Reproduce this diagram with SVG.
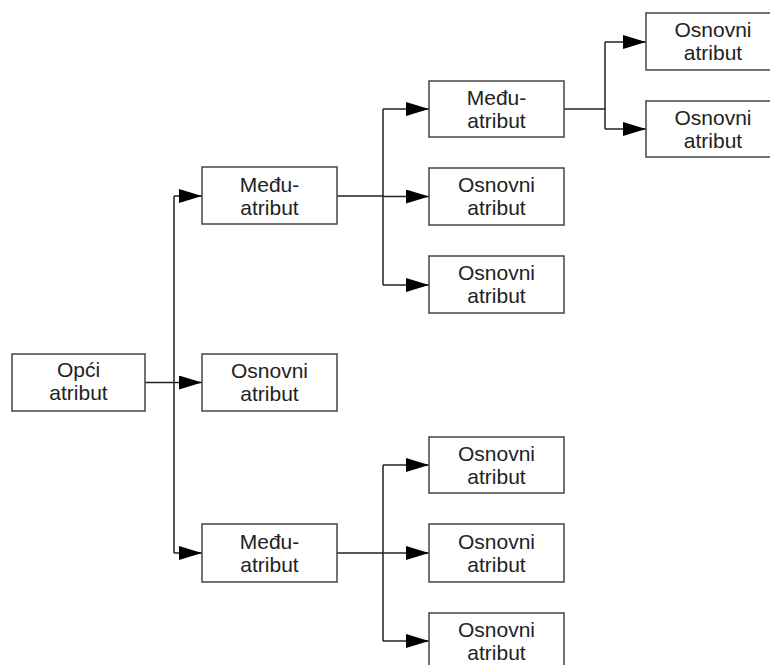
<svg xmlns="http://www.w3.org/2000/svg" width="770" height="665" viewBox="0 0 770 665">
<defs>
<style>
.box{fill:#fff;stroke:#444;stroke-width:1.5}
.t{font-family:"Liberation Sans",Arial,sans-serif;font-size:21px;fill:#222;text-anchor:middle}
.c{fill:none;stroke:#222;stroke-width:1.5}
</style>
<marker id="ah" markerUnits="userSpaceOnUse" markerWidth="24" markerHeight="16" refX="23" refY="7" orient="auto">
<path d="M0,0 L23,7 L0,14 Z" fill="#000"/>
</marker>
</defs>
<rect width="770" height="665" fill="#fff"/>
<g id="connectors">
<path class="c" d="M145,382.5 H174 M174,196 V553"/>
<path class="c" marker-end="url(#ah)" d="M174,196 H202"/>
<path class="c" marker-end="url(#ah)" d="M174,382.5 H202"/>
<path class="c" marker-end="url(#ah)" d="M174,553 H202"/>
<path class="c" d="M337,196 H383 M383,109 V285"/>
<path class="c" marker-end="url(#ah)" d="M383,109 H429"/>
<path class="c" marker-end="url(#ah)" d="M383,196.5 H429"/>
<path class="c" marker-end="url(#ah)" d="M383,285 H429"/>
<path class="c" d="M564,109 H605 M605,42 V129"/>
<path class="c" marker-end="url(#ah)" d="M605,42 H646"/>
<path class="c" marker-end="url(#ah)" d="M605,129 H646"/>
<path class="c" d="M337,553 H383 M383,465 V641"/>
<path class="c" marker-end="url(#ah)" d="M383,465 H429"/>
<path class="c" marker-end="url(#ah)" d="M383,553 H429"/>
<path class="c" marker-end="url(#ah)" d="M383,641 H429"/>
</g>
<g id="opci"><rect class="box" x="12" y="354" width="133" height="57"/><text class="t" x="78.5" y="377">Opći</text><text class="t" x="78.5" y="400">atribut</text></g>
<g id="medju1"><rect class="box" x="202" y="167" width="135" height="57"/><text class="t" x="269.5" y="192">Među-</text><text class="t" x="269.5" y="215">atribut</text></g>
<g id="osnovni1"><rect class="box" x="202" y="354" width="135" height="57"/><text class="t" x="269.5" y="378">Osnovni</text><text class="t" x="269.5" y="401">atribut</text></g>
<g id="medju2"><rect class="box" x="202" y="524" width="135" height="58"/><text class="t" x="269.5" y="549">Među-</text><text class="t" x="269.5" y="572">atribut</text></g>
<g id="medju3"><rect class="box" x="429" y="81" width="135" height="56"/><text class="t" x="496.5" y="105">Među-</text><text class="t" x="496.5" y="128">atribut</text></g>
<g id="osnovni2"><rect class="box" x="429" y="168" width="135" height="57"/><text class="t" x="496.5" y="192">Osnovni</text><text class="t" x="496.5" y="215">atribut</text></g>
<g id="osnovni3"><rect class="box" x="429" y="256" width="135" height="57"/><text class="t" x="496.5" y="280">Osnovni</text><text class="t" x="496.5" y="303">atribut</text></g>
<g id="osnovni4"><rect class="box" x="429" y="437" width="135" height="56"/><text class="t" x="496.5" y="461">Osnovni</text><text class="t" x="496.5" y="484">atribut</text></g>
<g id="osnovni5"><rect class="box" x="429" y="524" width="135" height="58"/><text class="t" x="496.5" y="549">Osnovni</text><text class="t" x="496.5" y="572">atribut</text></g>
<g id="osnovni6"><rect class="box" x="429" y="613" width="135" height="57"/><text class="t" x="496.5" y="637">Osnovni</text><text class="t" x="496.5" y="660">atribut</text></g>
<g id="osnovni7"><rect class="box" x="646" y="13" width="135" height="57"/><text class="t" x="713" y="37">Osnovni</text><text class="t" x="713" y="60">atribut</text></g>
<g id="osnovni8"><rect class="box" x="646" y="101" width="135" height="56"/><text class="t" x="713" y="125">Osnovni</text><text class="t" x="713" y="148">atribut</text></g>
</svg>
